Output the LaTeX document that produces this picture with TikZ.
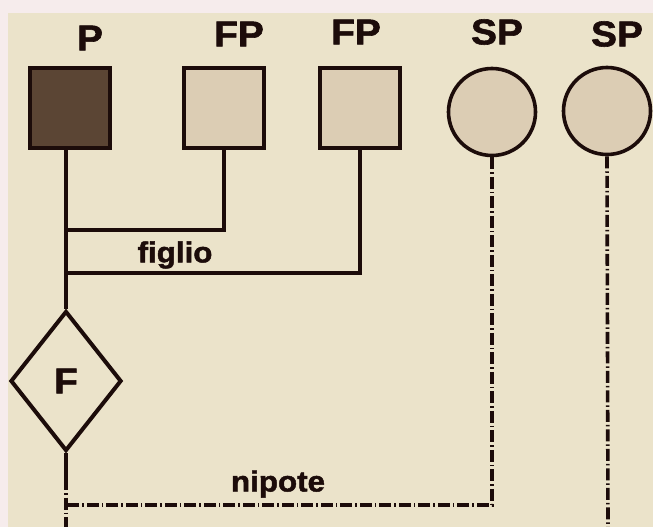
\documentclass[tikz,border=0pt]{standalone}
\usepackage{fontspec}
\setmainfont{Liberation Sans}
\newfontfamily\heavy[BoldFeatures={FakeBold=1.6,FakeStretch=1.08}]{Liberation Sans}
\usetikzlibrary{shapes.geometric}
\definecolor{bgpink}{HTML}{F6ECEC}
\definecolor{beige}{HTML}{EBE3CA}
\definecolor{ink}{HTML}{1C0C0A}
\definecolor{pdark}{HTML}{5B4534}
\definecolor{plight}{HTML}{DCCDB4}
\tikzset{
  sq/.style={draw=ink, line width=4pt, rectangle, minimum size=80pt, inner sep=0pt},
  circ/.style={draw=ink, line width=3.6pt, circle, fill=plight, minimum size=87pt, inner sep=0pt},
  lbl/.style={text=ink, font=\heavy\bfseries\fontsize{36}{36}\selectfont, inner sep=0pt},
  sublbl/.style={text=ink, font=\heavy\bfseries\fontsize{29}{29}\selectfont, inner sep=0pt},
  conn/.style={draw=ink, line width=3.4pt},
  dd/.style={draw=ink, line width=3.6pt, dash pattern=on 12pt off 3pt on 1.5pt off 3pt}
}
\begin{document}
\begin{tikzpicture}[x=1pt,y=-1pt]
\fill[bgpink] (0,0) rectangle (653,527);
\fill[beige] (8,13) rectangle (653,527);
\useasboundingbox (0,0) rectangle (653,527);
% labels
\node[lbl] (lP) at (90,38) {P};
\node[lbl] (lFP1) at (239,34) {FP};
\node[lbl] (lFP2) at (356,32) {FP};
\node[lbl] (lSP1) at (497,32) {SP};
\node[lbl] (lSP2) at (617,34) {SP};
% shapes
\node[sq, fill=pdark] (P) at (70,108) {};
\node[sq, fill=plight] (FP1) at (224,108) {};
\node[sq, fill=plight] (FP2) at (360,108) {};
\node[circ] (SP1) at (492,112) {};
\node[circ] (SP2) at (607,111) {};
\node[diamond, draw=ink, line width=4pt, minimum width=111pt, minimum height=140pt, inner sep=0pt,
      text=ink, font=\heavy\bfseries\fontsize{36}{36}\selectfont] (F) at (66,381) {F};
% coordinates
\coordinate (j1) at (66,230);
\coordinate (j2) at (66,273);
\coordinate (k) at (66,478);
\coordinate (bot) at (66,527);
\coordinate (h) at (66,505);
\coordinate (bot2) at (608,527);
% connectors
\draw[conn] (P.south -| F.north) -- (F.north);
\draw[conn] (FP1.south) |- (j1);
\draw[conn] (FP2.south) |- (j2);
\draw[conn] (F.south) -- (k);
\draw[dd] (k) -- (bot);
\draw[dd] (SP1.south) |- (h);
\draw[dd] (SP2.south) -- (bot2);
% connector labels
\node[sublbl] (figlio) at (175,255) {figlio};
\node[sublbl] (nipote) at (278,484) {nipote};
\end{tikzpicture}
\end{document}
